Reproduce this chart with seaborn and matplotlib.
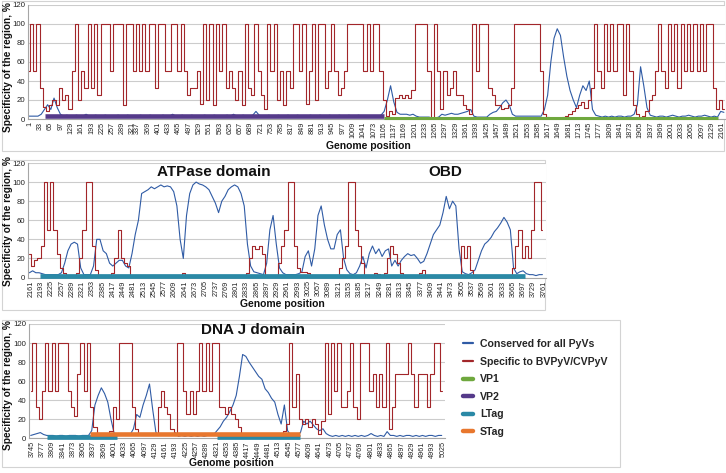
import numpy as np
import pandas as pd
import matplotlib
matplotlib.use("Agg")
import matplotlib.pyplot as plt
import seaborn as sns
from matplotlib.lines import Line2D
from matplotlib.patches import Rectangle

sns.set_theme(style="white")
FONT = ["Liberation Sans", "DejaVu Sans"]
plt.rcParams["font.family"] = FONT

# ---------------- data ----------------
CONS = "Conserved for all PyVs"
SPEC = "Specific to BVPyV/CVPyV"
STEP = 10

# Panel 1 (genome positions -4 ... 2166, every 10)
p1_start = -4
p1_red = [50,100,50,100,33,13,8,15,20,15,
          33,20,25,10,50,100,20,50,33,100,
          33,100,25,100,100,100,50,100,100,100,
          15,100,100,50,100,50,100,50,100,100,
          33,100,100,50,50,100,100,50,100,50,
          25,33,33,50,16,100,20,100,15,100,
          50,100,33,50,33,20,50,15,100,33,
          25,100,50,25,10,100,50,100,20,50,
          15,50,33,100,100,50,100,16,50,100,
          20,100,100,33,50,100,50,25,33,50,
          100,100,100,100,100,
          50,100,50,100,100,
          50,20,3,8,5,22,25,22,25,22,
          30,100,100,100,100,50,0,100,50,10,
          50,25,33,50,25,25,15,10,5,100,
          50,100,100,100,33,25,15,15,10,12,
          15,33,100,100,100,100,100,100,100,100,
          50,5,2,1,1,1,1,2,3,5,
          8,12,15,18,12,20,33,100,50,33,
          100,50,100,50,100,100,25,100,50,15,
          5,1,3,8,20,25,50,100,50,33,
          100,50,100,33,100,50,100,50,100,50,
          100,50,100,100,33,10,20,10]
p1_blue = [3,3,3,3,5,10,15,10,22,12,
           5,3,4,3,3,4,3,3,5,3,
           3,4,3,3,4,3,3,3,4,3,
           3,4,3,3,3,4,3,3,4,3,
           3,3,4,3,3,5,3,3,4,3,
           3,4,3,3,3,4,3,3,4,3,
           3,3,4,3,5,3,3,4,3,3,
           4,8,4,3,3,4,3,3,4,3,
           3,4,3,3,4,3,3,3,4,3,
           3,4,3,3,4,3,3,4,3,3,
           4,3,3,4,3,
           3,3,3,3,3,
           4,8,20,35,18,7,5,5,5,4,
           5,3,2,2,2,2,1,1,2,5,
           4,5,6,5,5,6,7,8,10,3,
           2,2,2,2,5,7,8,12,17,20,
           15,5,3,3,3,3,3,3,3,3,
           3,10,25,60,85,95,88,65,45,30,
           20,12,25,35,30,40,10,4,3,2,
           3,2,3,2,3,3,2,3,3,5,
           15,55,35,12,4,3,2,3,3,2,
           3,4,3,2,3,3,4,3,2,3,
           3,4,3,2,3,2,8,7]
p1_ticks = list(range(1, 322, 32)) + list(range(337, 2162, 32))
p1_genes = [("VP2", 48, 1105, 3.5), ("VP1", 1105, 2148, 1.5)]

# Panel 2 (genome positions 2156 ... 3756, every 10)
p2_start = 2156
p2_red = [25,12,18,20,33,100,50,100,50,25,
          10,5,3,2,3,5,20,50,100,100,
          33,8,3,2,2,3,5,20,50,20,
          15,12,2,1,1,1,1,1,1,1,
          1,1,1,1,1,1,1,2,5,1,
          1,1,1,1,1,1,1,1,1,1,
          1,1,1,1,1,1,1,2,5,20,
          33,30,33,25,3,2,2,3,15,33,
          50,100,100,33,10,6,6,5,3,2,
          2,2,2,2,2,2,3,10,20,33,
          100,100,50,33,15,3,3,2,5,4,
          3,5,20,33,25,15,5,3,2,2,
          2,3,5,8,2,1,1,1,1,1,
          1,1,1,1,1,33,20,33,8,3,
          2,1,2,1,2,1,2,1,2,1,
          2,10,33,50,20,33,20,50,100,100,50]
p2_blue = [5,7,5,5,4,3,3,3,3,3,
           5,15,28,35,37,35,10,3,3,3,
           12,40,40,28,25,15,12,15,18,18,
           12,10,25,45,60,88,90,92,95,93,
           95,97,95,96,95,90,75,40,20,65,
           88,97,100,98,97,95,92,85,78,68,
           80,85,92,95,97,95,88,75,35,12,
           6,5,4,3,15,50,65,35,10,5,
           3,3,3,3,4,6,22,28,12,30,
           65,75,55,40,30,30,45,50,20,8,
           4,3,5,12,22,10,25,33,25,30,
           22,28,30,12,18,12,18,22,25,23,
           24,20,15,17,25,35,45,50,55,68,
           85,72,80,75,30,6,4,3,5,8,
           18,28,35,38,42,48,52,57,63,58,
           50,10,4,6,7,4,3,3,2,3,3]
p2_ticks = list(range(2161, 3762, 32))
p2_genes = [("LTag", 2189, 3702, 1.5)]

# Panel 3 (genome positions 3741 ... 5021, every 10)
p3_start = 3741
p3_red = [50,100,33,20,50,100,50,100,50,100,
          100,100,50,33,23,67,100,50,100,33,
          12,5,3,5,5,8,33,20,100,100,
          100,100,33,10,5,3,3,3,3,5,
          33,50,33,25,10,3,100,100,50,25,
          50,25,50,100,50,100,50,100,100,33,
          33,25,33,25,20,12,5,3,2,2,
          2,2,2,2,2,2,2,2,3,8,
          15,100,33,67,20,15,20,12,20,15,
          5,18,100,25,100,50,100,33,33,50,
          100,33,20,100,100,100,50,67,33,67,
          33,100,10,33,67,67,67,67,100,67,
          33,67,67,67,33,67,100,100,50]
p3_blue = [3,4,5,6,4,3,3,3,2,3,
           3,2,3,3,3,2,3,3,3,8,
           35,45,53,47,38,20,5,3,3,4,
           3,4,10,25,22,35,45,57,30,6,
           3,3,3,3,3,6,2,3,2,3,
           2,3,2,3,2,3,3,4,8,12,
           18,22,28,35,45,65,88,86,80,75,
           70,65,62,52,48,42,38,25,15,35,
           8,3,4,3,6,18,15,18,14,10,
           8,10,5,3,2,3,2,3,2,3,
           2,3,2,3,2,3,5,3,2,3,
           2,7,3,3,2,3,2,3,3,2,
           3,2,3,2,3,3,2,3,3]
p3_ticks = list(range(3745, 5026, 32))
p3_genes = [("LTag", 3791, 4009, 1.0), ("LTag", 4320, 4580, 1.0),
            ("STag", 3926, 4580, 5.0)]

# ---------------- styling ----------------
BLUE, RED = "#2F5BA5", "#A2262A"
GENE_COL = {"VP1": "#6FA83E", "VP2": "#553A8A", "LTag": "#2A89A6", "STag": "#E8772E"}
GENE_LW = {"VP1": 2.2, "VP2": 3.3, "LTag": 3.4, "STag": 3.3}
GRID = "#CCCCCC"
AXC = "#A6A6A6"
TXT = "#111111"

W, H = 726, 473
fig = plt.figure(figsize=(W / 100, H / 100), dpi=100)
fig.patch.set_facecolor("white")


def fx(px):
    return px / W


def fy(py):
    return 1 - py / H


def make_ax(left, right, top, bottom):
    return fig.add_axes([fx(left), fy(bottom), (right - left) / W, (bottom - top) / H])


def draw_panel(ax, start, blue, red, genes, ticks, xlim, ylab_xy):
    pos = start + STEP * np.arange(len(red))
    dfb = pd.DataFrame({"pos": pos, "value": blue, "series": CONS})
    dfr = pd.DataFrame({"pos": pos, "value": red, "series": SPEC})
    sns.lineplot(data=dfb, x="pos", y="value", color=BLUE, ax=ax, legend=False,
                 linewidth=0.8, estimator=None, sort=False)
    sns.lineplot(data=dfr, x="pos", y="value", color=RED, ax=ax, legend=False,
                 linewidth=0.8, estimator=None, sort=False, drawstyle="steps-mid")
    for name, s, e, lvl in genes:
        ax.hlines(lvl, s, e, color=GENE_COL[name], lw=GENE_LW[name],
                  zorder=5, clip_on=False)
    ax.set_xlim(*xlim)
    ax.set_ylim(0, 120)
    ax.set_yticks(range(0, 121, 20))
    ax.set_yticklabels([str(v) for v in range(0, 121, 20)], fontsize=5.6)
    ax.set_xticks(ticks)
    ax.set_xticklabels([str(t) for t in ticks], rotation=90, fontsize=5.2)
    ax.tick_params(axis="x", length=1.5, width=0.6, pad=0.6, color=AXC, colors="#222222")
    ax.tick_params(axis="y", length=0, pad=2, colors="#222222")
    ax.yaxis.grid(True, color=GRID, lw=0.8)
    ax.xaxis.grid(False)
    ax.set_axisbelow(True)
    for side in ("top", "right"):
        ax.spines[side].set_visible(False)
    for side in ("left", "bottom"):
        ax.spines[side].set_color(AXC)
        ax.spines[side].set_linewidth(0.8)
    ax.set_xlabel("")
    ax.set_ylabel("Specificity of the region, %", fontsize=7.3, fontweight="bold",
                  color=TXT)
    ax.yaxis.set_label_coords(*ylab_xy)
    ax.set_facecolor("white")


# panel boxes
for (l, t, r, b) in [(2, 1, 724, 151), (2, 160, 545, 310), (2, 320, 620, 467)]:
    fig.add_artist(Rectangle((fx(l), fy(b)), (r - l) / W, (b - t) / H,
                             transform=fig.transFigure, fill=False,
                             ec="#D3D3D3", lw=0.8, zorder=0))

ax1 = make_ax(28, 725, 5, 119)
ax2 = make_ax(28, 546, 163, 277.5)
ax3 = make_ax(29, 445, 324, 438.3)

draw_panel(ax1, p1_start, p1_blue, p1_red, p1_genes, p1_ticks, (-5.2, 2169.4), (-0.0215, 0.455))
draw_panel(ax2, p2_start, p2_blue, p2_red, p2_genes, p2_ticks, (2151.6, 3767.2), (-0.029, 0.49))
draw_panel(ax3, p3_start, p3_blue, p3_red, p3_genes, p3_ticks, (3735.7, 5031.2), (-0.0385, 0.466))

# axis titles
for (cx, cy) in [(368, 146), (282, 304), (231, 462.5)]:
    fig.text(fx(cx), fy(cy), "Genome position", ha="center", va="center",
             fontsize=7.5, fontweight="bold", color=TXT)

# domain annotations
for (txt, cx, cy) in [("ATPase domain", 214, 172), ("OBD", 445, 172), ("DNA J domain", 253, 330)]:
    fig.text(fx(cx), fy(cy), txt, ha="center", va="center", fontsize=11,
             fontweight="bold", color=TXT)

# legend
handles = [
    Line2D([], [], color=BLUE, lw=1.6),
    Line2D([], [], color=RED, lw=1.6),
    Line2D([], [], color=GENE_COL["VP1"], lw=3.2, solid_capstyle="round"),
    Line2D([], [], color=GENE_COL["VP2"], lw=3.2, solid_capstyle="round"),
    Line2D([], [], color=GENE_COL["LTag"], lw=3.2, solid_capstyle="round"),
    Line2D([], [], color=GENE_COL["STag"], lw=3.2, solid_capstyle="round"),
]
labels = [CONS, SPEC, "VP1", "VP2", "LTag", "STag"]
fig.legend(handles, labels, loc="upper left", bbox_to_anchor=(fx(463), fy(339)),
           frameon=False, prop={"family": FONT, "weight": "bold", "size": 7.6},
           handlelength=0.95, handletextpad=0.65, labelspacing=0.72,
           borderpad=0, borderaxespad=0)

fig.savefig("out.png", dpi=100, facecolor="white")
